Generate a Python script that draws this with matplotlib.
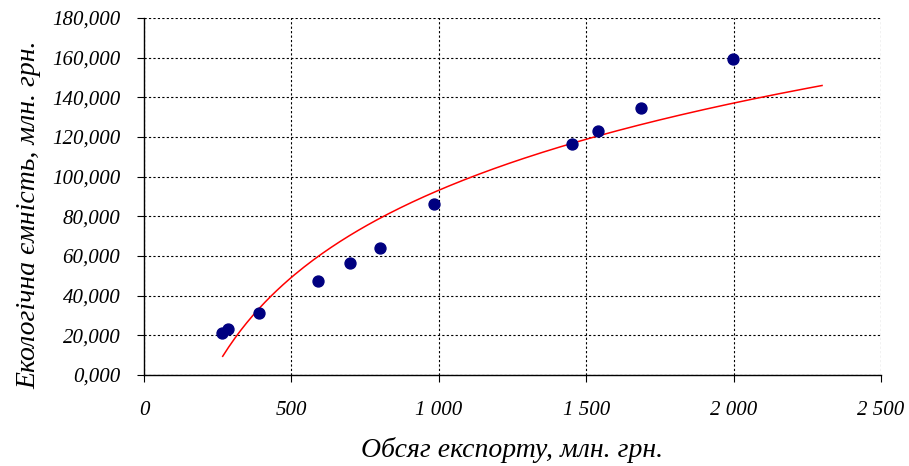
import numpy as np
import matplotlib.pyplot as plt
from matplotlib.ticker import FuncFormatter, MultipleLocator

# export volume, mln UAH
export = [264, 286, 391, 590, 699, 800, 985, 1453, 1539, 1686, 1997]
# ecological capacity, mln UAH
capacity = [21.3, 23.0, 31.1, 47.4, 56.5, 64.0, 86.2, 116.6, 123.2, 134.8, 159.3]

# logarithmic trend line: y = a*ln(x) + b
trend_a = 63.4
trend_b = -344.8
trend_range = [267, 2300]

plt.rcParams['font.family'] = ['Liberation Serif', 'DejaVu Serif']

tx = np.linspace(trend_range[0], trend_range[1], 200)
ty = trend_a * np.log(tx) + trend_b

fig = plt.figure(figsize=(9.09, 4.66), dpi=100)
ax = fig.add_axes([0.1584, 0.1953, 0.8108, 0.7661])

ax.plot(tx, ty, color='red', lw=1.1, zorder=2)
ax.scatter(export, capacity, s=62, color='#000080', zorder=3)

ax.set_xlim(0, 2500)
ax.set_ylim(0, 180)
ax.xaxis.set_major_locator(MultipleLocator(500))
ax.yaxis.set_major_locator(MultipleLocator(20))
ax.xaxis.set_major_formatter(FuncFormatter(lambda v, p: f'{int(v):,}'.replace(',', ' ')))
ax.yaxis.set_major_formatter(FuncFormatter(lambda v, p: f'{v:.3f}'.replace('.', ',')))

ax.grid(True, color='black', linestyle=(0, (2, 2)), lw=0.8)
for s in ['top', 'right']:
    ax.spines[s].set_visible(False)
for s in ['left', 'bottom']:
    ax.spines[s].set_linewidth(1.0)

ax.tick_params(axis='x', direction='out', length=5, pad=14, labelsize=15)
ax.tick_params(axis='y', direction='out', length=5, pad=12, labelsize=15)
for lab in ax.get_xticklabels() + ax.get_yticklabels():
    lab.set_fontstyle('italic')

ax.set_xlabel('Обсяг експорту, млн. грн.', fontsize=20, style='italic', labelpad=12)
ax.set_ylabel('Екологічна ємність, млн. грн.', fontsize=20, style='italic')
ax.yaxis.set_label_coords(-0.139, 0.45)

fig.savefig('out.png', dpi=100)
